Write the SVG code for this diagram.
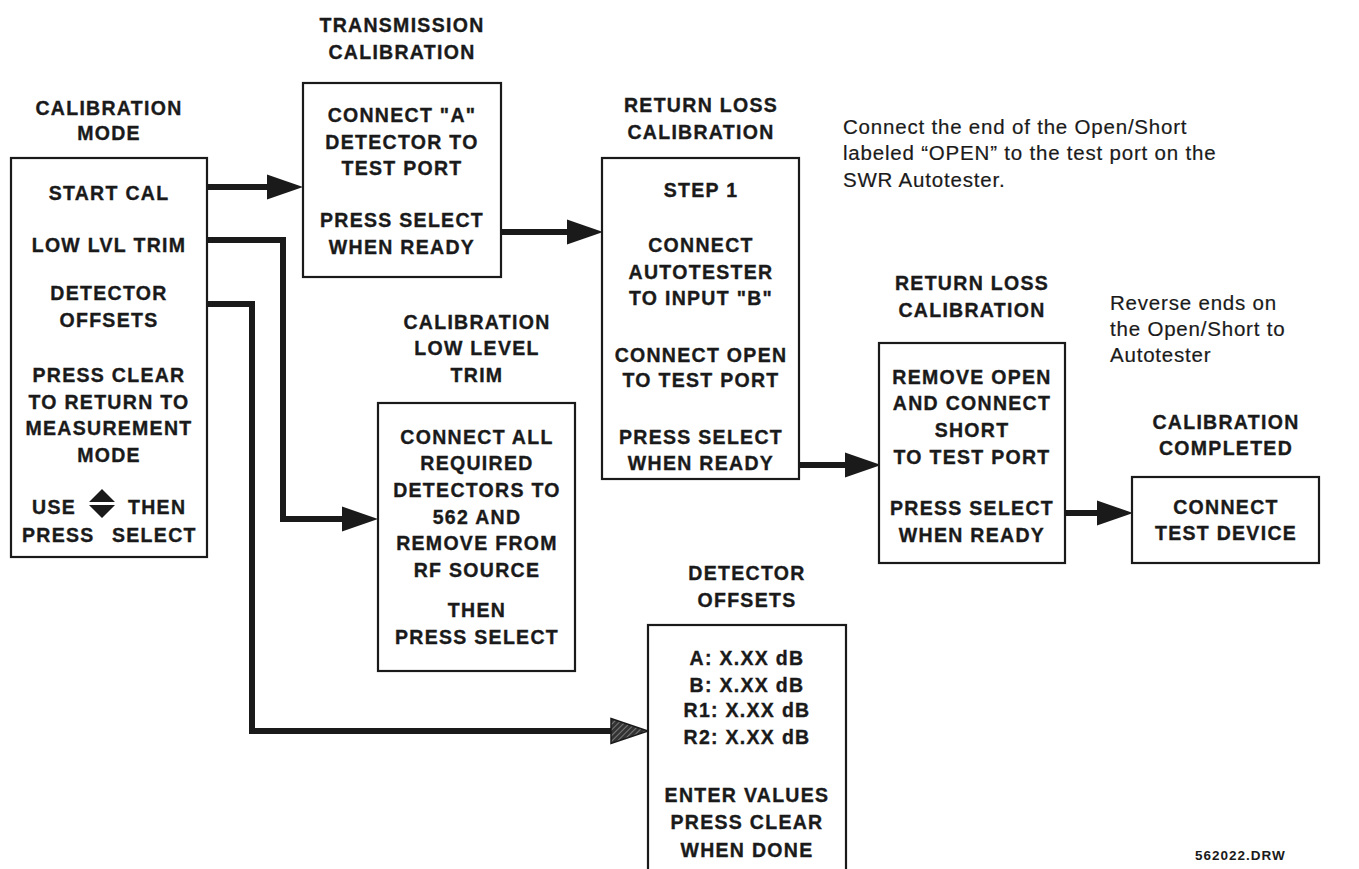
<svg xmlns="http://www.w3.org/2000/svg" width="1359" height="869" viewBox="0 0 1359 869">
<style>
.box{fill:#fff;stroke:#1a1a1a;stroke-width:2.2}
.t{font-family:"Liberation Sans",Arial,sans-serif;font-weight:bold;font-size:19.5px;letter-spacing:1.3px;text-anchor:middle;fill:#1a1a1a;stroke:#1a1a1a;stroke-width:0.35}
.ts{font-family:"Liberation Sans",Arial,sans-serif;font-weight:bold;font-size:19.5px;letter-spacing:1.3px;fill:#1a1a1a;stroke:#1a1a1a;stroke-width:0.35}
.n{font-family:"Liberation Sans",Arial,sans-serif;font-size:20.5px;letter-spacing:0.8px;fill:#1a1a1a;stroke:#1a1a1a;stroke-width:0.2}
.c{fill:none;stroke:#1a1a1a;stroke-width:6;stroke-linejoin:miter}
</style>
<defs>
<marker id="ah" markerUnits="userSpaceOnUse" markerWidth="40" markerHeight="30" refX="0" refY="12.5" orient="auto" overflow="visible">
<path d="M0,0 L36,12.5 L0,25 Z" fill="#1a1a1a"/>
</marker>
<pattern id="hatch" patternUnits="userSpaceOnUse" width="4" height="4" patternTransform="rotate(45)">
<rect width="4" height="4" fill="#333"/>
<line x1="0" y1="0" x2="0" y2="4" stroke="#aaa" stroke-width="1.2"/>
</pattern>
<marker id="ahh" markerUnits="userSpaceOnUse" markerWidth="40" markerHeight="30" refX="0" refY="12.5" orient="auto" overflow="visible">
<path d="M0,0 L37,12.5 L0,25 Z" fill="url(#hatch)" stroke="#1a1a1a" stroke-width="1.5"/>
</marker>
</defs>
<rect width="1359" height="869" fill="#fff"/>

<g id="connectors">
<path class="c" d="M207,187 H267" marker-end="url(#ah)"/>
<path class="c" d="M501,232 H567" marker-end="url(#ah)"/>
<path class="c" d="M207,240 H283 V519 H342" marker-end="url(#ah)"/>
<path class="c" d="M207,304 H252 V731 H611" marker-end="url(#ahh)"/>
<path class="c" d="M799,465 H845" marker-end="url(#ah)"/>
<path class="c" d="M1065,513 H1097" marker-end="url(#ah)"/>
</g>

<g id="calibration-mode">
<text class="t" x="109" y="115">CALIBRATION</text>
<text class="t" x="109" y="140">MODE</text>
<rect class="box" x="11" y="158" width="196" height="399"/>
<text class="t" x="109" y="200">START CAL</text>
<text class="t" x="109" y="252">LOW LVL TRIM</text>
<text class="t" x="109" y="300">DETECTOR</text>
<text class="t" x="109" y="327">OFFSETS</text>
<text class="t" x="109" y="382">PRESS CLEAR</text>
<text class="t" x="109" y="409">TO RETURN TO</text>
<text class="t" x="109" y="435">MEASUREMENT</text>
<text class="t" x="109" y="462">MODE</text>
<text class="ts" x="32" y="514">USE</text>
<path d="M89,502 L102,489 L115,502 Z M89,505 L102,518 L115,505 Z" fill="#1a1a1a"/>
<text class="ts" x="128" y="514">THEN</text>
<text class="ts" x="22" y="542">PRESS</text>
<text class="ts" x="112" y="542">SELECT</text>
</g>

<g id="transmission-calibration">
<text class="t" x="402" y="32">TRANSMISSION</text>
<text class="t" x="402" y="59">CALIBRATION</text>
<rect class="box" x="303" y="83" width="198" height="194"/>
<text class="t" x="402" y="122">CONNECT "A"</text>
<text class="t" x="402" y="149">DETECTOR TO</text>
<text class="t" x="402" y="175">TEST PORT</text>
<text class="t" x="402" y="227">PRESS SELECT</text>
<text class="t" x="402" y="254">WHEN READY</text>
</g>

<g id="return-loss-1">
<text class="t" x="701" y="112">RETURN LOSS</text>
<text class="t" x="701" y="139">CALIBRATION</text>
<rect class="box" x="602" y="158" width="197" height="321"/>
<text class="t" x="701" y="197">STEP 1</text>
<text class="t" x="701" y="252">CONNECT</text>
<text class="t" x="701" y="279">AUTOTESTER</text>
<text class="t" x="701" y="305">TO INPUT "B"</text>
<text class="t" x="701" y="362">CONNECT OPEN</text>
<text class="t" x="701" y="387">TO TEST PORT</text>
<text class="t" x="701" y="444">PRESS SELECT</text>
<text class="t" x="701" y="470">WHEN READY</text>
</g>

<g id="low-level-trim">
<text class="t" x="477" y="329">CALIBRATION</text>
<text class="t" x="477" y="355">LOW LEVEL</text>
<text class="t" x="477" y="382">TRIM</text>
<rect class="box" x="378" y="403" width="197" height="268"/>
<text class="t" x="477" y="444">CONNECT ALL</text>
<text class="t" x="477" y="470">REQUIRED</text>
<text class="t" x="477" y="497">DETECTORS TO</text>
<text class="t" x="477" y="524">562 AND</text>
<text class="t" x="477" y="550">REMOVE FROM</text>
<text class="t" x="477" y="577">RF SOURCE</text>
<text class="t" x="477" y="617">THEN</text>
<text class="t" x="477" y="644">PRESS SELECT</text>
</g>

<g id="return-loss-2">
<text class="t" x="972" y="290">RETURN LOSS</text>
<text class="t" x="972" y="317">CALIBRATION</text>
<rect class="box" x="879" y="343" width="186" height="220"/>
<text class="t" x="972" y="384">REMOVE OPEN</text>
<text class="t" x="972" y="410">AND CONNECT</text>
<text class="t" x="972" y="437">SHORT</text>
<text class="t" x="972" y="464">TO TEST PORT</text>
<text class="t" x="972" y="515">PRESS SELECT</text>
<text class="t" x="972" y="542">WHEN READY</text>
</g>

<g id="calibration-completed">
<text class="t" x="1226" y="429">CALIBRATION</text>
<text class="t" x="1226" y="455">COMPLETED</text>
<rect class="box" x="1132" y="477" width="187" height="86"/>
<text class="t" x="1226" y="514">CONNECT</text>
<text class="t" x="1226" y="540">TEST DEVICE</text>
</g>

<g id="detector-offsets">
<text class="t" x="747" y="580">DETECTOR</text>
<text class="t" x="747" y="607">OFFSETS</text>
<rect class="box" x="648" y="625" width="198" height="260"/>
<text class="t" x="747" y="665">A: X.XX dB</text>
<text class="t" x="747" y="692">B: X.XX dB</text>
<text class="t" x="747" y="717">R1: X.XX dB</text>
<text class="t" x="747" y="744">R2: X.XX dB</text>
<text class="t" x="747" y="802">ENTER VALUES</text>
<text class="t" x="747" y="829">PRESS CLEAR</text>
<text class="t" x="747" y="857">WHEN DONE</text>
</g>

<g id="notes">
<text class="n" x="843" y="134">Connect the end of the Open/Short</text>
<text class="n" x="843" y="160">labeled “OPEN” to the test port on the</text>
<text class="n" x="843" y="187">SWR Autotester.</text>
<text class="n" x="1110" y="310">Reverse ends on</text>
<text class="n" x="1110" y="336">the Open/Short to</text>
<text class="n" x="1110" y="362">Autotester</text>
<text x="1195" y="860" style="font-family:'Liberation Sans',Arial,sans-serif;font-weight:bold;font-size:13.5px;letter-spacing:1px;fill:#1a1a1a">562022.DRW</text>
</g>
</svg>
